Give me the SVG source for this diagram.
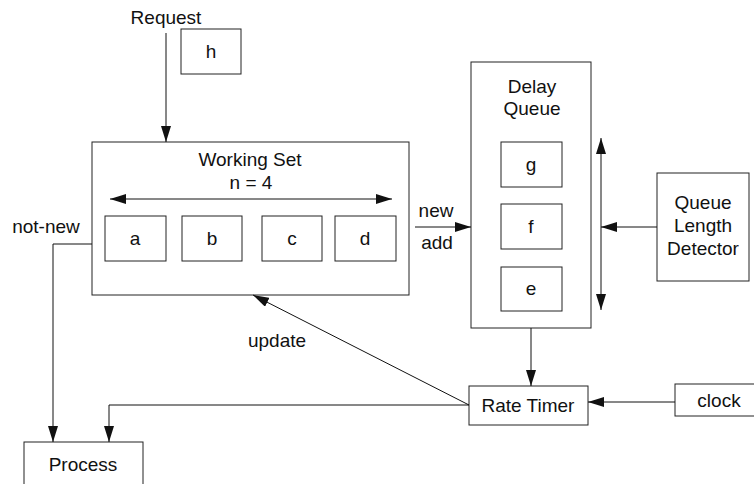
<svg xmlns="http://www.w3.org/2000/svg" width="754" height="484" viewBox="0 0 754 484">
<defs>
<marker id="ah" markerUnits="userSpaceOnUse" markerWidth="16" markerHeight="10" refX="16" refY="5" orient="auto-start-reverse">
<path d="M0,0 L16,5 L0,10 Z" fill="#111"/>
</marker>
<style>
rect{fill:#fff;stroke:#222;stroke-width:1}
text{font-family:"Liberation Sans",Arial,sans-serif;font-size:19px;fill:#111;text-anchor:middle}
.c line,.c polyline{stroke:#111;stroke-width:1;fill:none}
</style>
</defs>
<rect x="0" y="0" width="754" height="484" style="stroke:none"/>
<g id="ws">
<rect x="92" y="142" width="317" height="153"/>
<text x="250" y="166">Working Set</text>
<text x="251" y="189">n = 4</text>
</g>
<g id="a"><rect x="105" y="216" width="61" height="45"/><text x="135" y="245">a</text></g>
<g id="b"><rect x="182" y="216" width="60" height="45"/><text x="212" y="245">b</text></g>
<g id="c"><rect x="262" y="216" width="60" height="45"/><text x="292" y="245">c</text></g>
<g id="d"><rect x="335" y="216" width="61" height="45"/><text x="365" y="245">d</text></g>
<g id="h"><rect x="181" y="29" width="60" height="45"/><text x="211" y="58">h</text></g>
<g id="request"><text x="166" y="24">Request</text></g>
<g id="dq">
<rect x="471" y="62" width="120" height="266"/>
<text x="532" y="93">Delay</text>
<text x="532" y="115">Queue</text>
</g>
<g id="g"><rect x="501" y="142" width="61" height="45"/><text x="531" y="171">g</text></g>
<g id="f"><rect x="501" y="204" width="61" height="45"/><text x="531" y="233">f</text></g>
<g id="e"><rect x="501" y="267" width="61" height="44"/><text x="531" y="295">e</text></g>
<g id="qld">
<rect x="657" y="173" width="92" height="108"/>
<text x="703" y="209">Queue</text>
<text x="703" y="232">Length</text>
<text x="703" y="255">Detector</text>
</g>
<g id="rt"><rect x="469" y="386" width="119" height="39"/><text x="528" y="412">Rate Timer</text></g>
<g id="clock"><rect x="675" y="384" width="82" height="32"/><text x="719" y="407">clock</text></g>
<g id="process"><rect x="24" y="442" width="119" height="50"/><text x="83" y="471">Process</text></g>
<g class="c" id="connectors">
<line x1="166" y1="33" x2="166" y2="142" marker-end="url(#ah)"/>
<line x1="110" y1="199" x2="392" y2="199" marker-start="url(#ah)" marker-end="url(#ah)"/>
<line x1="415" y1="227" x2="471" y2="227" marker-end="url(#ah)"/>
<line x1="601" y1="138" x2="601" y2="310" marker-start="url(#ah)" marker-end="url(#ah)"/>
<line x1="657" y1="227" x2="601" y2="227" marker-end="url(#ah)"/>
<line x1="531" y1="328" x2="531" y2="386" marker-end="url(#ah)"/>
<line x1="675" y1="402" x2="588" y2="402" marker-end="url(#ah)"/>
<line x1="469" y1="405" x2="253" y2="295" marker-end="url(#ah)"/>
<polyline points="469,405 109,405 109,442" marker-end="url(#ah)"/>
<polyline points="92,244 53,244 53,442" marker-end="url(#ah)"/>
<text x="46" y="233">not-new</text>
<text x="436" y="217">new</text>
<text x="437" y="249">add</text>
<text x="277" y="347">update</text>
</g>
</svg>
